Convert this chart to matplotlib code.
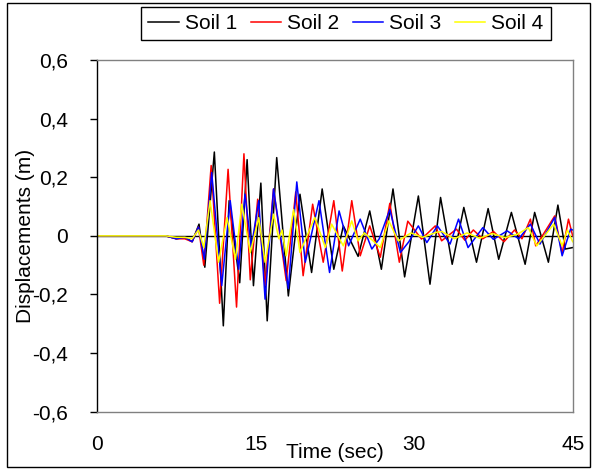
import matplotlib
matplotlib.use("Agg")
import matplotlib.pyplot as plt
from matplotlib.patches import Rectangle

plt.rcParams["font.family"] = ["Liberation Sans", "DejaVu Sans"]

# -------------------------- Data (peaks / troughs) --------------------------

soil1_t = [0, 6.5, 7.5, 8.3, 9.0, 9.65, 10.2, 11.1, 11.95, 12.5, 13.5, 14.2, 14.8, 15.5, 16.1,
           17.0, 18.1, 19.2, 20.3, 21.3, 22.4, 23.3, 24.7, 25.8, 26.9, 28.0, 29.1, 30.4, 31.5,
           32.5, 33.6, 34.7, 35.9, 37.0, 38.0, 39.2, 40.5, 41.4, 42.7, 43.6, 44.3, 45]
soil1_d = [0, 0, -0.01, -0.005, -0.02, 0.04, -0.107, 0.286, -0.307, 0.12, -0.16, 0.26, -0.17, 0.18,
           -0.29, 0.267, -0.205, 0.142, -0.125, 0.16, -0.114, 0.034, -0.07, 0.085, -0.114, 0.16,
           -0.14, 0.136, -0.165, 0.131, -0.097, 0.097, -0.09, 0.093, -0.08, 0.08, -0.097, 0.08,
           -0.09, 0.105, -0.045, -0.04]

soil2_t = [0, 6.5, 7.5, 8.3, 9.0, 9.6, 10.1, 10.8, 11.6, 12.4, 13.2, 13.9, 14.5, 15.2, 15.9, 16.7,
           17.9, 18.8, 19.5, 20.4, 21.4, 22.4, 23.2, 24.1, 24.9, 25.8, 26.8, 27.7, 28.6, 29.4,
           30.7, 32.0, 32.6, 34.0, 34.8, 35.6, 36.5, 37.5, 38.5, 39.5, 40.2, 41.0, 41.5, 42.3,
           43.3, 44.0, 44.6, 45]
soil2_d = [0, 0, -0.01, -0.01, -0.02, 0.03, -0.10, 0.24, -0.23, 0.227, -0.243, 0.28, -0.15, 0.125,
           -0.17, 0.16, -0.153, 0.15, -0.136, 0.108, -0.09, 0.12, -0.12, 0.12, -0.068, 0.034,
           -0.073, 0.111, -0.09, 0.05, -0.011, 0.034, -0.017, 0.023, -0.015, 0.02, -0.01, 0.015,
           -0.02, 0.02, -0.01, 0.057, -0.034, 0.01, 0.068, -0.06, 0.057, 0.0]

soil3_t = [0, 6.5, 7.5, 8.3, 9.0, 9.6, 10.15, 10.85, 11.8, 12.6, 13.4, 14.0, 14.6, 15.3, 15.9,
           16.7, 18.1, 18.9, 19.7, 21.0, 22.0, 22.9, 23.8, 24.9, 26.0, 26.7, 27.7, 28.7, 29.5,
           30.4, 31.2, 32.2, 33.4, 34.2, 35.1, 36.5, 37.5, 38.8, 39.9, 41.0, 41.9, 43.3, 44.0,
           44.8, 45]
soil3_d = [0, 0, -0.01, -0.005, -0.02, 0.03, -0.08, 0.216, -0.17, 0.12, -0.114, 0.142, -0.04,
           0.12, -0.216, 0.16, -0.18, 0.184, -0.09, 0.12, -0.125, 0.085, -0.034, 0.057, -0.045,
           -0.01, 0.09, -0.057, -0.02, 0.034, -0.023, 0.034, -0.028, 0.057, -0.04, 0.028, -0.012,
           0.017, -0.01, 0.04, -0.028, 0.063, -0.068, 0.023, 0.02]

soil4_t = [0, 6.5, 7.5, 8.3, 9.0, 9.6, 10.1, 10.7, 11.5, 12.3, 13.1, 13.7, 14.5, 15.3, 15.9,
           16.7, 17.2, 17.5, 17.9, 18.6, 19.2, 20.6, 21.6, 22.2, 23.3, 24.1, 24.7, 25.3, 26.8,
           27.6, 28.5, 29.7, 30.8, 32.1, 32.6, 33.8, 35.0, 36.2, 37.4, 38.6, 39.8, 40.8, 41.6,
           43.2, 44.0, 44.5, 45]
soil4_d = [0, 0, -0.005, -0.005, -0.01, 0.02, -0.04, 0.12, -0.09, 0.062, -0.08, 0.108, -0.057,
           0.062, -0.09, 0.074, -0.01, 0.02, -0.068, 0.09, -0.057, 0.063, -0.04, 0.04, -0.034,
           0.051, -0.017, 0.01, -0.04, 0.051, -0.017, 0.01, -0.005, 0.012, 0.015, -0.01, 0.01,
           -0.008, 0.008, -0.006, 0.006, 0.028, -0.034, 0.04, -0.034, 0.02, -0.02]

series_labels = ["Soil 1", "Soil 2", "Soil 3", "Soil 4"]
series_colors = ["black", "#FF0000", "#0000FF", "#FFFF00"]

x_ticks = [0, 15, 30, 45]
y_ticks = [-0.6, -0.4, -0.2, 0, 0.2, 0.4, 0.6]
y_tick_labels = ["-0,6", "-0,4", "-0,2", "0", "0,2", "0,4", "0,6"]

# -------------------------- Figure --------------------------

fig = plt.figure(figsize=(5.95, 4.70), dpi=100)
ax = fig.add_axes([97 / 595, 58.3 / 470, 475.7 / 595, 351.7 / 470])

# outer chart border
fig.patches.append(Rectangle((7 / 595, 3 / 470), 583 / 595, 464 / 470, transform=fig.transFigure,
                             fill=False, edgecolor="black", linewidth=1.0))

ax.axhline(0, color="black", linewidth=1.0, zorder=1)

series = [(soil1_t, soil1_d), (soil2_t, soil2_d), (soil3_t, soil3_d), (soil4_t, soil4_d)]
for (t, d), lab, col in zip(series, series_labels, series_colors):
    ax.plot(t, d, color=col, linewidth=1.1, label=lab, zorder=2)

ax.set_xlim(0, 45)
ax.set_ylim(-0.6, 0.6)
ax.set_xticks(x_ticks)
ax.set_xticklabels([str(v) for v in x_ticks])
ax.set_yticks(y_ticks)
ax.set_yticklabels(y_tick_labels)
ax.tick_params(axis="x", length=0, pad=17, labelsize=15)
ax.tick_params(axis="y", direction="out", length=5, width=1, color="black", pad=16, labelsize=15)

for side in ["top", "right", "bottom"]:
    ax.spines[side].set_color("#808080")
    ax.spines[side].set_linewidth(1.0)
ax.spines["left"].set_color("black")
ax.spines["left"].set_linewidth(1.0)

ax.set_xlabel("Time (sec)", fontsize=15)
ax.xaxis.set_label_coords(0.5, -0.1146)
ax.xaxis.label.set_va("center")

ax.set_ylabel("Displacements (m)", fontsize=15)
ax.yaxis.set_label_coords(-0.151, 0.5)
ax.yaxis.label.set_va("center")

leg = fig.legend(loc="center", bbox_to_anchor=(346 / 595, 1 - 23.5 / 470), ncol=4, fontsize=15,
                 frameon=True, fancybox=False, shadow=False, framealpha=1, edgecolor="black",
                 handlelength=1.45, handletextpad=0.3, columnspacing=0.65, borderpad=0.35,
                 borderaxespad=0)
leg.get_frame().set_linewidth(1.0)

fig.savefig("out.png", dpi=100)
